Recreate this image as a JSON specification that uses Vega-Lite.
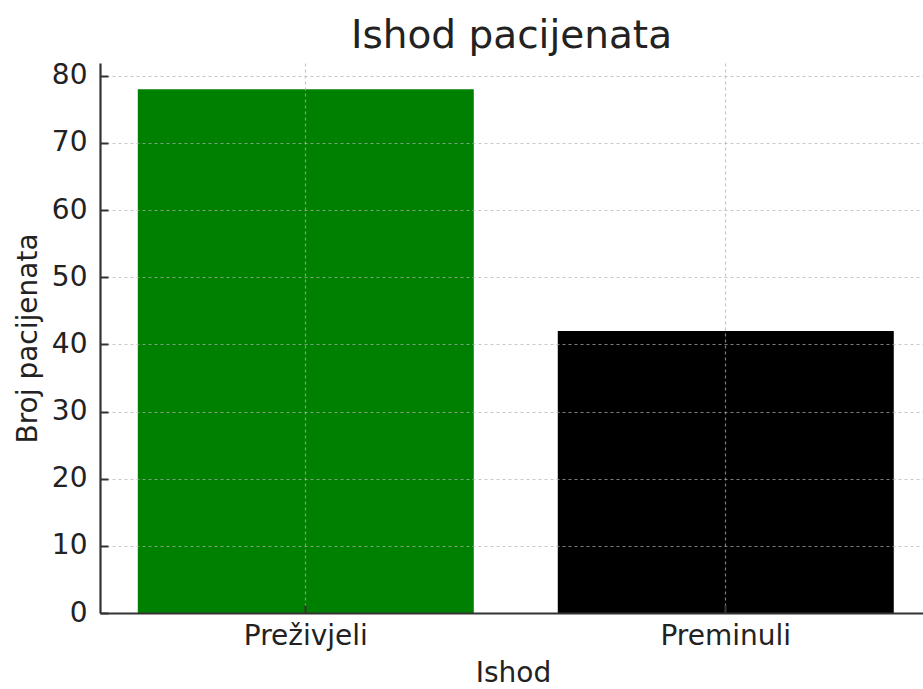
{
  "$schema": "https://vega.github.io/schema/vega-lite/v6.json",
  "autosize": {"type": "none"},
  "padding": {"left": 100, "top": 63, "right": 0, "bottom": 76},
  "width": 823,
  "height": 550,
  "background": "white",
  "config": {
    "font": "DejaVu Sans",
    "view": {"stroke": null}
  },
  "title": {
    "text": "Ishod pacijenata",
    "font": "DejaVu Sans",
    "fontSize": 39,
    "fontWeight": "normal",
    "color": "#222222",
    "anchor": "middle",
    "baseline": "alphabetic",
    "offset": -25
  },
  "data": {
    "values": [
      {"Ishod": "Preživjeli", "Broj": 78},
      {"Ishod": "Preminuli", "Broj": 42}
    ]
  },
  "mark": {"type": "bar"},
  "encoding": {
    "x": {
      "field": "Ishod",
      "type": "nominal",
      "sort": ["Preživjeli", "Preminuli"],
      "scale": {"paddingInner": 0.2, "paddingOuter": 0.0798, "align": 0.564},
      "axis": {
        "title": "Ishod",
        "labelAngle": 0,
        "labelFontSize": 28,
        "labelColor": "#222222",
        "labelPadding": 17,
        "labelBaseline": "top",
        "bandPosition": 0.5,
        "tickSize": -8,
        "tickWidth": 2,
        "tickColor": "#333333",
        "domainColor": "#333333",
        "domainWidth": 2.2,
        "grid": true,
        "gridColor": "#b0b0b0",
        "gridOpacity": 0.7,
        "gridDash": [3, 3],
        "gridWidth": 1.2,
        "titleFontSize": 28,
        "titleFontWeight": "normal",
        "titleColor": "#222222",
        "titleX": 413,
        "titleY": 68,
        "titleAlign": "center",
        "titleBaseline": "alphabetic",
        "zindex": 1
      }
    },
    "y": {
      "field": "Broj",
      "type": "quantitative",
      "scale": {"domain": [0, 81.9], "nice": false, "zero": true},
      "axis": {
        "title": "Broj pacijenata",
        "values": [0, 10, 20, 30, 40, 50, 60, 70, 80],
        "labelFontSize": 28,
        "labelColor": "#222222",
        "labelPadding": 21,
        "tickSize": -8,
        "tickWidth": 2,
        "tickColor": "#333333",
        "domainColor": "#333333",
        "domainWidth": 2.2,
        "grid": true,
        "gridColor": "#b0b0b0",
        "gridOpacity": 0.7,
        "gridDash": [3, 3],
        "gridWidth": 1.2,
        "titleFontSize": 28,
        "titleFontWeight": "normal",
        "titleColor": "#222222",
        "titleX": -72,
        "titleY": 275,
        "titleAngle": -90,
        "titleAlign": "center",
        "titleBaseline": "middle",
        "zindex": 1
      }
    },
    "color": {
      "field": "Ishod",
      "type": "nominal",
      "scale": {"domain": ["Preživjeli", "Preminuli"], "range": ["#008000", "#000000"]},
      "legend": null
    }
  }
}
